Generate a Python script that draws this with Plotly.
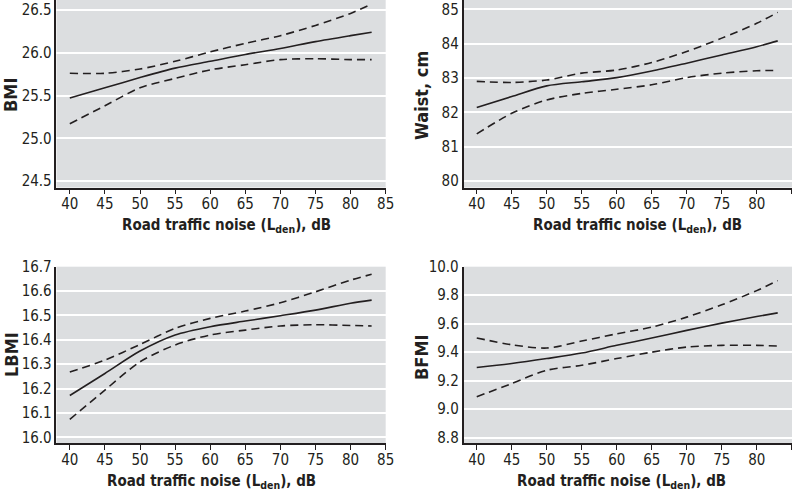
import plotly.graph_objects as go

# ---- data ----
noise = [40, 45, 50, 55, 60, 65, 70, 75, 80, 83]

bmi_est = [25.47, 25.59, 25.71, 25.82, 25.90, 25.98, 26.05, 26.13, 26.20, 26.24]
bmi_hi = [25.76, 25.76, 25.81, 25.90, 26.01, 26.11, 26.20, 26.32, 26.46, 26.57]
bmi_lo = [25.17, 25.38, 25.59, 25.70, 25.80, 25.86, 25.92, 25.93, 25.92, 25.92]

waist_est = [82.14, 82.46, 82.77, 82.89, 83.01, 83.20, 83.43, 83.67, 83.91, 84.08]
waist_hi = [82.90, 82.87, 82.94, 83.14, 83.23, 83.45, 83.77, 84.16, 84.59, 84.91]
waist_lo = [81.37, 81.97, 82.36, 82.55, 82.67, 82.80, 83.01, 83.14, 83.21, 83.22]

lbmi_est = [16.172, 16.262, 16.354, 16.420, 16.454, 16.477, 16.499, 16.522, 16.550, 16.563]
lbmi_hi = [16.268, 16.317, 16.381, 16.447, 16.488, 16.518, 16.552, 16.597, 16.645, 16.669]
lbmi_lo = [16.074, 16.194, 16.310, 16.379, 16.420, 16.440, 16.457, 16.462, 16.459, 16.457]

bfmi_est = [9.292, 9.320, 9.355, 9.394, 9.448, 9.499, 9.553, 9.604, 9.650, 9.676]
bfmi_hi = [9.500, 9.452, 9.429, 9.478, 9.529, 9.576, 9.646, 9.732, 9.832, 9.902]
bfmi_lo = [9.087, 9.180, 9.273, 9.308, 9.355, 9.400, 9.436, 9.448, 9.448, 9.443]

x_ticks = [40, 45, 50, 55, 60, 65, 70, 75, 80, 85]
bmi_ticks = [24.5, 25.0, 25.5, 26.0, 26.5]
waist_ticks = [80, 81, 82, 83, 84, 85]
lbmi_ticks = [16.0, 16.1, 16.2, 16.3, 16.4, 16.5, 16.6, 16.7]
bfmi_ticks = [8.8, 9.0, 9.2, 9.4, 9.6, 9.8, 10.0]

y_titles = ["BMI", "Waist, cm", "LBMI", "BFMI"]
x_title = "Road traffic noise (L<sub>den</sub>), dB"

INK = "#231f20"
BG = "#dcdee0"
FONT = "Liberation Sans Narrow, Arial Narrow, DejaVu Sans Condensed, sans-serif"

panels = [
    (bmi_est, bmi_hi, bmi_lo, bmi_ticks, [24.424, 26.617], "%.1f"),
    (waist_est, waist_hi, waist_lo, waist_ticks, [79.81, 85.27], "%d"),
    (lbmi_est, lbmi_hi, lbmi_lo, lbmi_ticks, [15.975, 16.7], "%.1f"),
    (bfmi_est, bfmi_hi, bfmi_lo, bfmi_ticks, [8.759, 10.0], "%.1f"),
]

xdomains = [[0.0706, 0.4821], [0.5794, 0.99], [0.0706, 0.4821], [0.5794, 0.99]]
ydomains = [[0.6272, 1.0], [0.6272, 1.0], [0.1183, 0.4698], [0.1183, 0.4698]]
xranges = [[38.1, 85.0], [38.11, 85.04], [38.1, 85.0], [38.11, 85.04]]

fig = go.Figure()
layout = dict(
    template="none",
    width=800, height=503,
    margin=dict(l=0, r=0, t=0, b=0, pad=0),
    paper_bgcolor="white",
    plot_bgcolor=BG,
    showlegend=False,
    font=dict(family=FONT, size=14, color=INK),
)

for i, (est, hi, lo, yt, yr, fmt) in enumerate(panels):
    n = i + 1
    xa = "x" if n == 1 else f"x{n}"
    ya = "y" if n == 1 else f"y{n}"
    for vals, dash in ((hi, "8px,5px"), (lo, "8px,5px"), (est, "solid")):
        fig.add_trace(go.Scatter(
            x=noise, y=vals, xaxis=xa, yaxis=ya, mode="lines",
            line=dict(color=INK, width=1.6, dash=dash, shape="spline", smoothing=0.8),
            hoverinfo="skip", cliponaxis=True,
        ))
    layout[f"xaxis{'' if n == 1 else n}"] = dict(
        domain=xdomains[i], range=xranges[i], anchor=ya, automargin=False,
        tickvals=x_ticks, ticks="outside", ticklen=5, tickwidth=1.2, tickcolor=INK,
        ticklabelstandoff=-3,
        showline=True, linecolor=INK, linewidth=1.6, showgrid=False, zeroline=False,
        tickfont=dict(family=FONT, size=15, color=INK),
    )
    layout[f"yaxis{'' if n == 1 else n}"] = dict(
        domain=ydomains[i], range=yr, anchor=xa, automargin=False,
        tickvals=yt, ticktext=[fmt % v for v in yt], ticks="",
        showline=True, linecolor=INK, linewidth=1.6,
        showgrid=True, gridcolor="white", gridwidth=1.6, zeroline=False,
        tickfont=dict(family=FONT, size=15, color=INK),
    )

fig.update_layout(**layout)

# axis titles as annotations (paper coords, from pixels)
def px(xp, yp):
    return xp / 800, 1 - yp / 503

xt_pos = [(226.5, 226), (637.5, 226), (211.7, 481), (621.7, 481)]
yt_pos = [(11, 95), (421, 96), (11, 355), (421, 357)]
for i in range(4):
    xx, yy = px(*xt_pos[i])
    fig.add_annotation(x=xx, y=yy, xref="paper", yref="paper", text=f"<b>{x_title}</b>",
                       showarrow=False, xanchor="center", yanchor="middle",
                       font=dict(family=FONT, size=15, color=INK))
    xx, yy = px(*yt_pos[i])
    fig.add_annotation(x=xx, y=yy, xref="paper", yref="paper", text=f"<b>{y_titles[i]}</b>",
                       showarrow=False, textangle=-90, xanchor="center", yanchor="middle",
                       font=dict(family=FONT, size=18, color=INK))

fig.write_html("out.html", config={"displayModeBar": False},
               post_script="document.body.style.margin='0px';document.body.style.padding='0px';")
